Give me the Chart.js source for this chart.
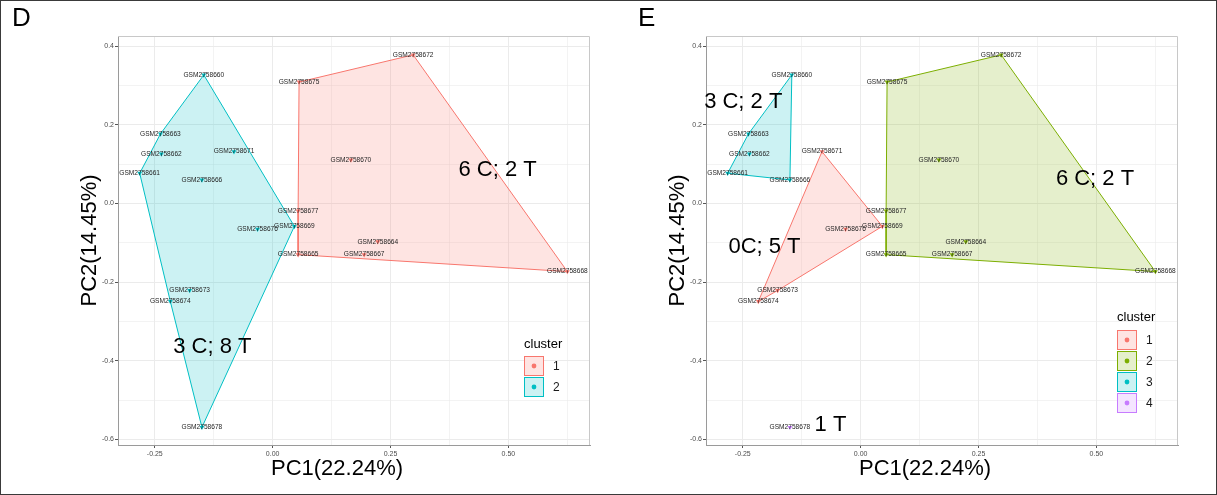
<!DOCTYPE html>
<html>
<head>
<meta charset="utf-8">
<script src="https://cdn.jsdelivr.net/npm/chart.js@4"></script>
<style>
  html, body { margin: 0; padding: 0; background: #fff; }
  .panel { position: absolute; top: 0; width: 605px; height: 495px; }
  #frame { position: absolute; left: 0; top: 0; width: 1217px; height: 495px; box-sizing: border-box;
           border: 1.5px solid #3a3a3a; pointer-events: none; }
</style>
</head>
<body>
<div class="panel" style="left:0px"><canvas id="panelD" width="605" height="495"></canvas></div>
<div class="panel" style="left:588px"><canvas id="panelE" width="605" height="495"></canvas></div>
<div id="frame"></div>
<script>
// Samples and their principal component scores
const samples = ['GSM2758660','GSM2758661','GSM2758662','GSM2758663','GSM2758664','GSM2758665','GSM2758666',
                 'GSM2758667','GSM2758668','GSM2758669','GSM2758670','GSM2758671','GSM2758672','GSM2758673',
                 'GSM2758674','GSM2758675','GSM2758676','GSM2758677','GSM2758678'];
const pc1 = [-0.146, -0.282, -0.236, -0.238, 0.223, 0.054, -0.150, 0.194, 0.625, 0.046,
             0.166, -0.082, 0.298, -0.176, -0.217, 0.056, -0.032, 0.054, -0.150];
const pc2 = [0.327, 0.077, 0.126, 0.177, -0.097, -0.130, 0.060, -0.130, -0.173, -0.058,
             0.111, 0.132, 0.378, -0.221, -0.249, 0.309, -0.065, -0.019, -0.569];

// Cluster assignment per sample: two-cluster (D) and four-cluster (E) solutions
const clustersD = [2,2,2,2,1,1,2,1,1,2,1,2,1,2,2,1,2,1,2];
const clustersE = [3,3,3,3,2,2,3,2,2,1,2,1,2,1,1,2,1,2,4];
const clusterNamesD = ['1','2'];
const clusterNamesE = ['1','2','3','4'];
const coloursD = ['#F8766D','#00BFC4'];
const coloursE = ['#F8766D','#7CAE00','#00BFC4','#C77CFF'];

// Cluster composition notes and where they sit (PC1, PC2)
const notesD = ['6 C; 2 T','3 C; 8 T'];
const notesDx = [0.477, -0.128];
const notesDy = [0.086, -0.364];
const notesE = ['0C; 5 T','6 C; 2 T','3 C; 2 T','1 T'];
const notesEx = [-0.204, 0.497, -0.249, -0.064];
const notesEy = [-0.111, 0.063, 0.259, -0.563];

// Axis ticks
const xTicks = [-0.25, 0, 0.25, 0.5];
const xTickLabels = ['-0.25','0.00','0.25','0.50'];
const xMinor = [-0.125, 0.125, 0.375, 0.625];
const yTicks = [-0.6, -0.4, -0.2, 0, 0.2, 0.4];
const yTickLabels = ['-0.6','-0.4','-0.2','0.0','0.2','0.4'];
const yMinor = [-0.5, -0.3, -0.1, 0.1, 0.3];
const xTitle = 'PC1(22.24%)';
const yTitle = 'PC2(14.45%)';

const X_MIN = -0.328, X_MAX = 0.673, Y_MIN = -0.614, Y_MAX = 0.426;
const FONT = '"Liberation Sans", Arial, Helvetica, sans-serif';

function rgba(hex, a) {
  const n = parseInt(hex.slice(1), 16);
  return `rgba(${(n >> 16) & 255},${(n >> 8) & 255},${n & 255},${a})`;
}

// Monotone-chain convex hull, returned closed
function hull(pts) {
  const p = pts.slice().sort((a, b) => a.x - b.x || a.y - b.y);
  if (p.length < 3) return p;
  const cross = (o, a, b) => (a.x - o.x) * (b.y - o.y) - (a.y - o.y) * (b.x - o.x);
  const lower = [], upper = [];
  for (const q of p) {
    while (lower.length >= 2 && cross(lower[lower.length - 2], lower[lower.length - 1], q) <= 0) lower.pop();
    lower.push(q);
  }
  for (let i = p.length - 1; i >= 0; i--) {
    const q = p[i];
    while (upper.length >= 2 && cross(upper[upper.length - 2], upper[upper.length - 1], q) <= 0) upper.pop();
    upper.push(q);
  }
  upper.pop(); lower.pop();
  const h = lower.concat(upper);
  h.push(h[0]);
  return h;
}

function labelFor(v, ticks, labels) {
  const i = ticks.findIndex(t => Math.abs(t - v) < 1e-9);
  return i >= 0 ? labels[i] : '';
}
const isMajor = (v, ticks) => ticks.some(t => Math.abs(t - v) < 1e-9);

function makePanel(id, clusters, names, colours, notes, nx, ny, deco) {
  const datasets = [];
  names.forEach((name, k) => {
    const pts = [];
    clusters.forEach((c, i) => { if (c === k + 1) pts.push({x: pc1[i], y: pc2[i], name: samples[i]}); });
    if (pts.length >= 3) {
      datasets.push({
        type: 'line', data: hull(pts), borderColor: colours[k], borderWidth: 1,
        backgroundColor: rgba(colours[k], 0.2), fill: 'shape', pointRadius: 0, tension: 0, order: 2
      });
    }
    datasets.push({
      type: 'scatter', data: pts, pointStyle: 'triangle', rotation: 180, pointRadius: 2.8,
      backgroundColor: colours[k], borderColor: colours[k], borderWidth: 0, order: 1
    });
  });

  const decor = {
    id: 'decor_' + id,
    afterDatasetsDraw(chart) {
      const ctx = chart.ctx, xs = chart.scales.x, ys = chart.scales.y;
      ctx.save();
      ctx.fillStyle = '#1f1f1f';
      ctx.font = '6.6px ' + FONT;
      ctx.textAlign = 'center';
      ctx.textBaseline = 'middle';
      samples.forEach((s, i) => ctx.fillText(s, xs.getPixelForValue(pc1[i]), ys.getPixelForValue(pc2[i])));
      ctx.fillStyle = '#000';
      ctx.font = '22px ' + FONT;
      notes.forEach((t, i) => ctx.fillText(t, xs.getPixelForValue(nx[i]), ys.getPixelForValue(ny[i])));
      ctx.restore();
    },
    afterDraw(chart) {
      const ctx = chart.ctx, a = chart.chartArea;
      ctx.save();
      // panel frame (top / right)
      ctx.strokeStyle = '#c8c8c8';
      ctx.lineWidth = 1;
      ctx.beginPath();
      ctx.moveTo(a.left, a.top + 0.5); ctx.lineTo(a.right - 0.5, a.top + 0.5); ctx.lineTo(a.right - 0.5, a.bottom);
      ctx.stroke();
      // axis titles
      ctx.fillStyle = '#000';
      ctx.font = '22px ' + FONT;
      ctx.textAlign = 'center';
      ctx.textBaseline = 'middle';
      ctx.fillText(xTitle, (a.left + a.right) / 2 - 17, 469);
      ctx.save();
      ctx.translate(90, (a.top + a.bottom) / 2);
      ctx.rotate(-Math.PI / 2);
      ctx.fillText(yTitle, 0, 0);
      ctx.restore();
      // panel letter
      ctx.font = '26px ' + FONT;
      ctx.textAlign = 'left';
      ctx.textBaseline = 'alphabetic';
      ctx.fillText(deco.letter, deco.letterX, 26);
      // legend
      ctx.font = '13px ' + FONT;
      ctx.textBaseline = 'middle';
      ctx.fillStyle = '#000';
      ctx.fillText('cluster', deco.legX, deco.legTitleY);
      names.forEach((name, k) => {
        const by = deco.legBoxY + k * 21;
        ctx.fillStyle = '#fff';
        ctx.fillRect(deco.legX, by, 20, 20);
        ctx.fillStyle = rgba(colours[k], 0.2);
        ctx.fillRect(deco.legX, by, 20, 20);
        ctx.strokeStyle = colours[k];
        ctx.lineWidth = 1;
        ctx.strokeRect(deco.legX + 0.5, by + 0.5, 19, 19);
        ctx.fillStyle = colours[k];
        ctx.beginPath();
        ctx.arc(deco.legX + 10, by + 10, 2.4, 0, Math.PI * 2);
        ctx.fill();
        ctx.fillStyle = '#1a1a1a';
        ctx.font = '12px ' + FONT;
        ctx.fillText(name, deco.legX + 29, by + 10.5);
      });
      ctx.restore();
    }
  };

  const tickFont = {size: 7, family: FONT};
  return new Chart(document.getElementById(id), {
    type: 'scatter',
    data: {datasets},
    options: {
      responsive: false, animation: false, devicePixelRatio: 1,
      layout: {padding: {top: 36, right: 15, left: 0, bottom: 0}},
      plugins: {legend: {display: false}, tooltip: {enabled: false}},
      scales: {
        x: {
          type: 'linear', min: X_MIN, max: X_MAX,
          afterFit: s => { s.height = 50; },
          afterBuildTicks: s => { s.ticks = xTicks.concat(xMinor).sort((a, b) => a - b).map(v => ({value: v})); },
          ticks: {callback: v => labelFor(v, xTicks, xTickLabels), font: tickFont, color: '#4d4d4d',
                  padding: 2, maxRotation: 0, autoSkip: false},
          grid: {color: '#ebebeb', lineWidth: c => isMajor(c.tick.value, xTicks) ? 1 : 0.6, tickLength: 3,
                 tickColor: c => isMajor(c.tick.value, xTicks) ? '#555' : 'rgba(0,0,0,0)'},
          border: {color: '#9a9a9a', width: 1}
        },
        y: {
          type: 'linear', min: Y_MIN, max: Y_MAX,
          afterFit: s => { s.width = 118; },
          afterBuildTicks: s => { s.ticks = yTicks.concat(yMinor).sort((a, b) => a - b).map(v => ({value: v})); },
          ticks: {callback: v => labelFor(v, yTicks, yTickLabels), font: tickFont, color: '#4d4d4d',
                  padding: 1, autoSkip: false},
          grid: {color: '#ebebeb', lineWidth: c => isMajor(c.tick.value, yTicks) ? 1 : 0.6, tickLength: 3,
                 tickColor: c => isMajor(c.tick.value, yTicks) ? '#555' : 'rgba(0,0,0,0)'},
          border: {color: '#9a9a9a', width: 1}
        }
      }
    },
    plugins: [decor]
  });
}

makePanel('panelD', clustersD, clusterNamesD, coloursD, notesD, notesDx, notesDy,
          {letter: 'D', letterX: 12, legX: 524, legTitleY: 344, legBoxY: 356});
makePanel('panelE', clustersE, clusterNamesE, coloursE, notesE, notesEx, notesEy,
          {letter: 'E', letterX: 50, legX: 529, legTitleY: 317, legBoxY: 330});
</script>
</body>
</html>
